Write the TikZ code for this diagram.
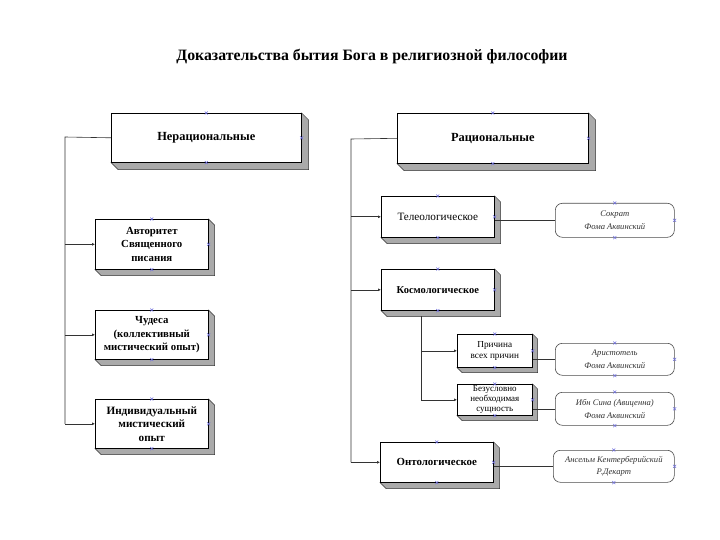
\documentclass[tikz,border=0pt]{standalone}
\usepackage{fontspec}
\setmainfont{Liberation Serif}
\usetikzlibrary{arrows.meta,calc}
\definecolor{sidegray}{RGB}{170,170,170}
\definecolor{markblue}{RGB}{110,110,220}
\tikzset{
  box/.style={draw=black, line width=0.6pt, fill=white, align=center, inner sep=1pt, anchor=north west},
  rbox/.style={draw=black!70, line width=0.6pt, fill=white, rounded corners=7pt, align=center, inner sep=1pt, anchor=north west, font=\fontsize{8.6}{12.5}\selectfont\itshape, text=black!80},
  conn/.style={line width=0.6pt, black!80},
  arr/.style={conn, -{Latex[length=3pt,width=3pt]}},
  mk/.style={draw=markblue, line width=0.5pt}
}
\newcommand\extr[2]{%
  \draw[fill=sidegray, draw=black!80, line width=0.5pt]
    (#1.north east) -- ($(#1.north east)+(#2pt,-#2pt)$) -- ($(#1.south east)+(#2pt,-#2pt)$)
    -- ($(#1.south west)+(#2pt,-#2pt)$) -- (#1.south west) -- (#1.south east) -- cycle;
  \draw[black, line width=0.6pt] (#1.north west) rectangle (#1.south east);}
\newcommand\mkx[1]{\draw[mk] ($(#1)+(-1.5pt,-1.5pt)$) -- ($(#1)+(1.5pt,1.5pt)$) ($(#1)+(-1.5pt,1.5pt)$) -- ($(#1)+(1.5pt,-1.5pt)$);}
\newcommand\cmarks[1]{\mkx{#1.north}\mkx{#1.south}\mkx{#1.east}}
\begin{document}
\begin{tikzpicture}[x=1pt,y=-1pt]
\useasboundingbox (0,0) rectangle (720,540);
\node[font=\fontsize{15.8}{17}\selectfont\bfseries] (title) at (372,57) {Доказательства бытия Бога в религиозной философии};

% left column
\node[box, minimum width=190pt, minimum height=49pt, font=\fontsize{12.4}{14}\selectfont\bfseries] (nr) at (111,113) {Нерациональные};
\extr{nr}{7}
\node[box, minimum width=113pt, minimum height=50pt, font=\fontsize{10.8}{13.5}\selectfont\bfseries] (avt) at (95,219) {Авторитет\\Священного\\писания};
\extr{avt}{6}
\node[box, minimum width=113pt, minimum height=49pt, font=\fontsize{10.8}{13.5}\selectfont\bfseries] (chu) at (95,310) {Чудеса\\(коллективный\\мистический опыт)};
\extr{chu}{6}
\node[box, minimum width=113pt, minimum height=49pt, font=\fontsize{11.2}{13.5}\selectfont\bfseries] (ind) at (95,399) {Индивидуальный\\мистический\\опыт};
\extr{ind}{6}

% right column
\node[box, minimum width=191pt, minimum height=50pt, font=\fontsize{12.4}{14}\selectfont\bfseries] (rac) at (397,113) {Рациональные};
\extr{rac}{7}
\node[box, minimum width=113pt, minimum height=41pt, font=\fontsize{11.2}{13}\selectfont] (tel) at (381,196) {Телеологическое};
\extr{tel}{6}
\node[box, minimum width=113pt, minimum height=41pt, font=\fontsize{10.5}{12}\selectfont\bfseries] (kos) at (381,269) {Космологическое};
\extr{kos}{6}
\node[box, minimum width=75pt, minimum height=33pt, font=\fontsize{9.2}{11}\selectfont] (pri) at (457,334) {Причина\\всех причин};
\extr{pri}{5}
\node[box, minimum width=75pt, minimum height=31pt, font=\fontsize{9}{10}\selectfont] (bez) at (457,384) {Безусловно\\необходимая\\сущность};
\extr{bez}{5}
\node[box, minimum width=113pt, minimum height=40pt, font=\fontsize{10.9}{12}\selectfont\bfseries] (ont) at (380,442) {Онтологическое};
\extr{ont}{6}

% rounded boxes
\node[rbox, minimum width=119pt, minimum height=34pt] (sok) at (555,203) {Сократ\\Фома Аквинский};
\node[rbox, minimum width=119pt, minimum height=32pt] (ari) at (555,343) {Аристотель\\Фома Аквинский};
\node[rbox, minimum width=119pt, minimum height=33pt] (ibn) at (555,392) {Ибн Сина (Авиценна)\\Фома Аквинский};
\node[rbox, minimum width=121pt, minimum height=32pt] (ans) at (553,450) {Ансельм Кентерберийский\\Р.Декарт};

% left connectors
\coordinate (lt) at (65,137);
\draw[conn] (nr.west) -- (lt) -- (lt |- ind.west);
\draw[arr] (lt |- avt.west) -- (avt.west);
\draw[arr] (lt |- chu.west) -- (chu.west);
\draw[arr] (lt |- ind.west) -- (ind.west);

% right connectors
\coordinate (rt) at (351,139);
\draw[conn] (rac.west) -- (rt) -- (rt |- ont.west);
\draw[arr] (rt |- tel.west) -- (tel.west);
\draw[arr] (rt |- kos.west) -- (kos.west);
\draw[arr] (rt |- ont.west) -- (ont.west);

\coordinate (kt) at (421,316);
\draw[conn] (kt) -- (kt |- bez.west);
\draw[arr] (kt |- pri.west) -- (pri.west);
\draw[arr] (kt |- bez.west) -- (bez.west);

\draw[conn] (tel.east |- sok.west) -- (sok.west);
\draw[conn] (pri.east |- ari.west) -- (ari.west);
\draw[conn] (bez.east |- ibn.west) -- (ibn.west);
\draw[conn] (ont.east |- ans.west) -- (ans.west);

% connection marks
\cmarks{nr}\cmarks{avt}\cmarks{chu}\cmarks{ind}
\cmarks{rac}\cmarks{tel}\cmarks{kos}\cmarks{pri}\cmarks{bez}\cmarks{ont}
\cmarks{sok}\cmarks{ari}\cmarks{ibn}\cmarks{ans}
\end{tikzpicture}
\end{document}
